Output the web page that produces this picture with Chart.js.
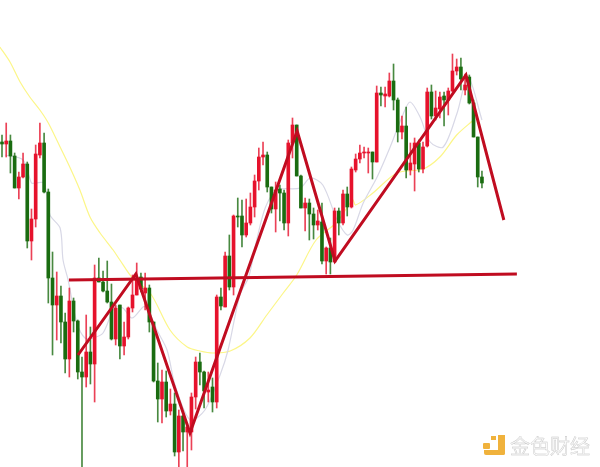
<!DOCTYPE html>
<html>
<head>
<meta charset="utf-8">
<style>
  html, body { margin: 0; padding: 0; background: #fff; }
  #wrap { position: relative; width: 600px; height: 467px; overflow: hidden; }
  #logo1 { position: absolute; left: 483px; top: 443px; width: 7px; height: 6px; background: #f0b23c; border-radius: 1px; }
  #logo2 { position: absolute; left: 491px; top: 436px; width: 5px; height: 4px; background: #f0b23c; }
  #logo3 { position: absolute; left: 498px; top: 435px; width: 7px; height: 20px; background: #f0b23c; border-radius: 0 0 2px 0; }
  #logo4 { position: absolute; left: 484px; top: 450px; width: 21px; height: 5px; background: #f0b23c; border-radius: 0 0 2px 2px; }
  #mark { position: absolute; left: 510px; top: 432px; font-family: "Noto Sans CJK SC"; font-size: 20px; line-height: 28px;
          color: #fafafa; -webkit-text-stroke: 0.4px #c4c4c4; white-space: nowrap; }
</style>
</head>
<body>
<div id="wrap">
  <canvas id="myChart" width="600" height="467"></canvas>
  <div id="logo1"></div><div id="logo2"></div><div id="logo3"></div><div id="logo4"></div>
  <div id="mark">金色财经</div>
</div>
<script src="https://cdn.jsdelivr.net/npm/chart.js@4"></script>
<script>
// price levels (axis runs top down, no labels shown)
var candleSide = ['g','r','g','g','r','r','g','r','r','r','g','g','g','r','g','g','r','g','g','g',
  'r','g','r','g','g','g','g','r','g','r','r','r','r','g','r','g','g','g','r','g',
  'r','g','r','g','r','r','r','g','g','r','g','r','g','r','g','r','g','g','r','r',
  'r','r','r','g','g','r','g','g','r','r','g','g','r','g','g','r','g','r','g','r',
  'g','r','g','r','r','r','r','r','g','r','g','r','r','g','g','r','g','r','r','g',
  'r','r','g','r','r','g','r','r','r','g','r','g','g','g','g'];
var bodyTop = [142,141,141,156,177,164,164,219,154,143,143,192,278,296,296,322,301,301,321,372,
  352,352,278,278,282,291,302,308,305,337,308,295,278,277,288,288,322,381,382,382,
  404,404,416,416,427,397,362,362,372,390,387,297,297,256,256,216,216,216,223,207,
  181,157,155,155,187,190,189,193,143,125,125,176,203,203,214,221,222,248,248,211,
  211,194,194,169,159,153,152,152,152,93,93,94,81,81,100,126,126,163,143,143,
  147,92,92,108,97,96,91,71,67,67,85,77,103,137,177];
var bodyBot = [144,144,156,188,188,177,241,241,219,155,192,278,305,305,322,359,359,321,372,377,
  377,364,364,282,291,302,339,339,346,346,337,308,295,289,293,322,381,399,399,411,
  411,452,452,432,432,432,397,372,391,392,402,402,306,307,287,287,217,235,235,223,
  207,181,157,187,209,209,193,223,223,143,176,208,208,214,225,225,261,261,262,262,
  223,223,207,207,170,159,153,153,162,162,95,96,96,100,132,132,170,170,164,169,
  169,146,116,116,109,100,100,91,71,79,90,103,137,177,183];
var wickTop = [135,123,135,153,172,153,162,209,145,123,133,189,252,272,286,313,288,298,320,357,
  315,327,265,258,271,261,284,305,305,322,307,275,263,273,273,285,322,363,370,371,
  389,393,410,415,423,393,357,353,371,372,378,295,288,252,235,215,198,200,199,193,
  175,148,142,152,187,182,185,190,140,118,125,175,198,199,208,210,203,247,238,208,
  208,190,187,167,154,145,147,148,152,86,87,87,73,64,98,116,107,143,138,140,
  142,88,85,91,92,92,88,54,59,58,74,75,100,137,171];
var wickBot = [157,157,173,188,199,178,248,260,227,158,193,303,355,340,343,373,377,332,379,467,
  387,384,402,282,292,303,340,345,359,355,339,312,295,292,310,332,382,422,423,417,
  415,456,467,451,467,450,409,385,408,402,412,408,310,307,290,295,227,247,237,225,
  217,190,165,192,213,232,221,230,236,158,176,208,231,240,239,230,264,274,274,262,
  235,225,216,208,172,163,158,173,179,162,106,107,97,110,142,139,178,175,191,172,
  173,147,119,120,118,126,115,92,75,90,95,104,137,187,188];

// moving averages: candle number, then level
var yellowAt = [-0.5,1.9,4.3,6.6,9,11,13.8,16.2,18.5,20.9,23.3,26.4,28,31,35.2,39.9,44,47,50.1,54.2,
  58.9,62.9,66.8,70,74.6,79.6,83.3,84,88.1,93.8,100,104,108,112];
var yellowLevel = [47,62,82,97,110,123,147,168,190,217,233,250,260,278,293,330,347,351,353,351,
  338,315,293,275,240,222,200,205,193,173,169,157,135,120];
var greyAt = [0.7,5,7,8,10,11.4,13.8,14.5,15.7,17.8,19.7,21.6,24,26.8,28.7,30.9,33.5,34.4,36.8,39.2,
  41.1,44.7,48.2,51.8,53.7,56.5,58.6,60.5,62.6,65.3,70.8,73.2,76.2,79.6,82,83.4,85.8,89.1,92.2,95,
  96.9,99.3,101.7,104.8,108.1,110.7,114];
var greyLevel = [155,160,183,183,183,215,228,260,280,323,338,338,333,307,308,318,307,307,330,350,
  385,420,410,375,350,295,277,240,207,190,188,178,185,220,235,230,203,177,147,117,
  102,117,142,147,113,77,120];

// hand drawn trend lines
var zigzagAt = [18.05,31.8,44.65,70.1,79.1,110.2,119.2];
var zigzagLevel = [355,274,433,131,261,75,220];
var flatAt = [15.9,122.3];
var flatLevel = [280,274];

var red = '#e6122c', green = '#1a6c10', trendRed = '#c00c20';

function pairs(xs, ys) {
  return xs.map(function (x, i) { return { x: x, y: ys[i] }; });
}
function floats(a, b) {
  return a.map(function (v, i) { return { x: i, y: [v, b[i]] }; });
}
var sideColors = candleSide.map(function (s) { return s == 'r' ? red : green; });
var wickColors = candleSide.map(function (s) { return s == 'r' ? 'rgba(230,18,44,0.8)' : 'rgba(26,108,16,0.8)'; });

new Chart('myChart', {
  type: 'bar',
  data: {
    datasets: [
      { type: 'line', data: pairs(zigzagAt, zigzagLevel), borderColor: trendRed, borderWidth: 3, pointRadius: 0, order: 1 },
      { type: 'line', data: pairs(flatAt, flatLevel), borderColor: trendRed, borderWidth: 3, pointRadius: 0, order: 1 },
      { data: floats(bodyTop, bodyBot), backgroundColor: sideColors, barThickness: 3, minBarLength: 1, grouped: false, order: 2 },
      { data: floats(wickTop, wickBot), backgroundColor: wickColors, barThickness: 1, grouped: false, order: 3 },
      { type: 'line', data: pairs(greyAt, greyLevel), borderColor: '#d8d8e6', borderWidth: 1.2, pointRadius: 0, tension: 0.3, order: 4 },
      { type: 'line', data: pairs(yellowAt, yellowLevel), borderColor: '#fcf688', borderWidth: 1.2, pointRadius: 0, tension: 0.3, order: 5 }
    ]
  },
  options: {
    responsive: false,
    animation: false,
    layout: { padding: 0 },
    plugins: { legend: { display: false }, tooltip: { enabled: false } },
    scales: {
      x: { type: 'linear', display: false, offset: false, min: -0.475, max: 142.04 },
      y: { type: 'linear', display: false, reverse: true, min: 0, max: 467 }
    }
  }
});
</script>
</body>
</html>
